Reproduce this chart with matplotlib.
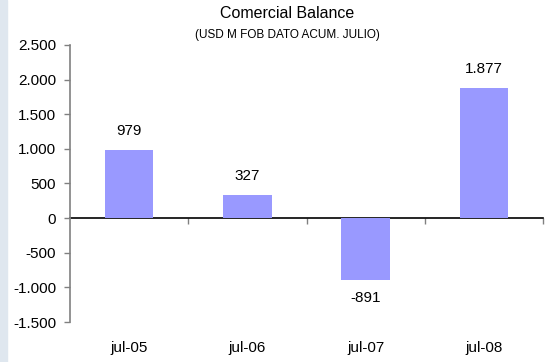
import matplotlib
matplotlib.use("Agg")
import matplotlib.pyplot as plt
from matplotlib.ticker import FuncFormatter, FixedLocator
from matplotlib.patches import Rectangle

plt.rcParams['font.family'] = ['Liberation Sans', 'DejaVu Sans']

categories = ["jul-05", "jul-06", "jul-07", "jul-08"]
values = [979, 327, -891, 1877]
yticks = [-1500, -1000, -500, 0, 500, 1000, 1500, 2000, 2500]


def fmt(v):
    # spanish style thousands separator
    return f"{int(v):,}".replace(",", ".")


fig = plt.figure(figsize=(5.52, 3.62), dpi=100)
fig.patches.append(Rectangle((0, 0), 7 / 552, 1, transform=fig.transFigure,
                             color="#dfe7ef", zorder=0))
ax = fig.add_axes([70 / 552, 1 - 322 / 362, 473 / 552, 277 / 362])

x = list(range(len(categories)))
ax.bar(x, values, width=0.41, color="#9999ff", zorder=2)

ax.set_xlim(-0.5, len(categories) - 0.5)
ax.set_ylim(-1500, 2500)
ax.set_yticks(yticks)
ax.yaxis.set_major_formatter(FuncFormatter(lambda v, p: fmt(v)))
ax.tick_params(axis="y", direction="out", length=4, width=1, color="#808080",
               labelsize=11, pad=6)

for s in ["top", "right", "bottom"]:
    ax.spines[s].set_visible(False)
ax.spines["left"].set_color("#808080")
ax.spines["left"].set_linewidth(1.2)

# category labels at the bottom
ax.set_xticks(x)
ax.set_xticklabels(categories)
ax.tick_params(axis="x", length=0, labelsize=11, pad=14)

# zero line with boundary ticks
zero = ax.secondary_xaxis(1500 / 4000)
zero.xaxis.set_major_locator(FixedLocator([i + 0.5 for i in x]))
zero.set_xticklabels([])
zero.tick_params(direction="out", length=4, width=1, color="#808080")
zero.spines["bottom"].set_color("black")
zero.spines["bottom"].set_linewidth(1.2)

for xi, v in zip(x, values):
    off = 9 if v >= 0 else -8
    ax.annotate(fmt(v), (xi, v), xytext=(0, off), textcoords="offset points",
                ha="center", va="bottom" if v >= 0 else "top", fontsize=11)

fig.text(287 / 552, 1 - 13 / 362, "Comercial Balance", ha="center", va="center",
         fontsize=11.5)
fig.text(287 / 552, 1 - 35 / 362, "(USD M FOB DATO ACUM. JULIO)", ha="center",
         va="center", fontsize=8.5)

fig.savefig("out.png", dpi=100)
